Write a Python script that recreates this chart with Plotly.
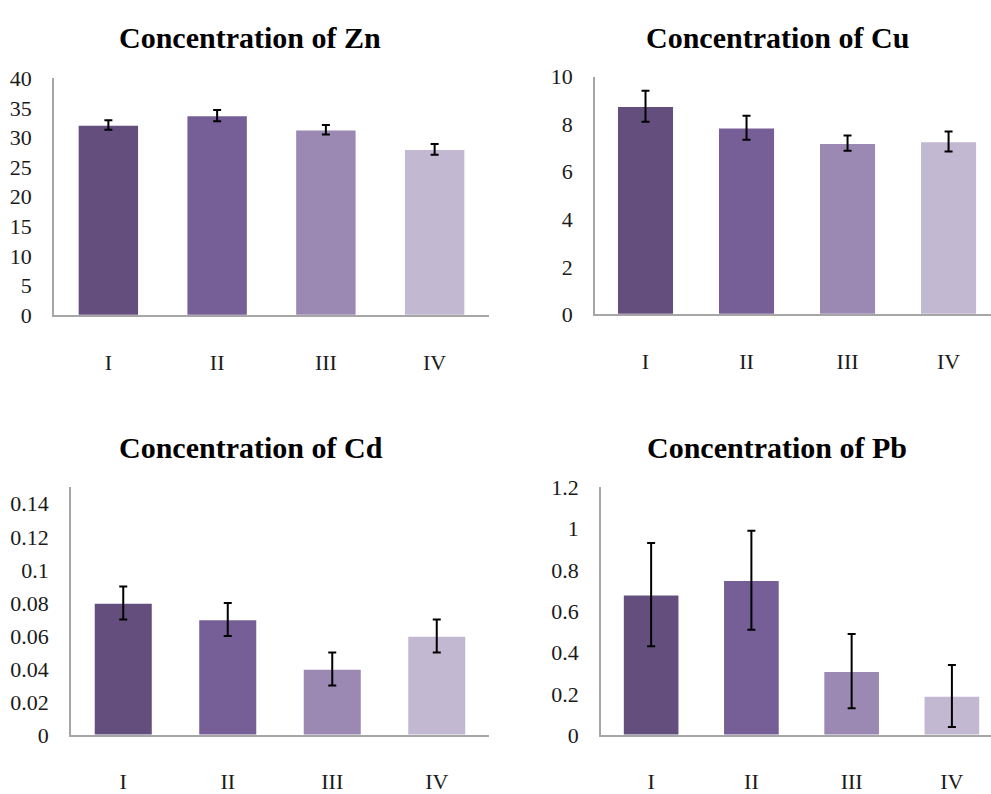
import plotly.graph_objects as go

W, H = 991, 794

categories = ["I", "II", "III", "IV"]
bar_colors = ["#634e7d", "#765e96", "#9b89b3", "#c2b8d1"]

zn_values = [32.1, 33.7, 31.3, 28.0]
zn_errors = [0.8, 0.95, 0.8, 0.9]

cu_values = [8.75, 7.85, 7.2, 7.27]
cu_errors = [0.65, 0.5, 0.32, 0.42]

cd_values = [0.08, 0.07, 0.04, 0.06]
cd_errors = [0.01, 0.01, 0.01, 0.01]

pb_values = [0.68, 0.75, 0.31, 0.19]
pb_errors = [0.25, 0.24, 0.18, 0.15]

titles = ["Concentration of Zn", "Concentration of Cu",
          "Concentration of Cd", "Concentration of Pb"]

panels = [
    dict(vals=zn_values, errs=zn_errors, x0=54, x1=489, yt=68.3, yb=313.3,
         xmax=3.5, yr=[0, 40], tv=[0, 5, 10, 15, 20, 25, 30, 35, 40],
         tt=["0", "5", "10", "15", "20", "25", "30", "35", "40"],
         tx=250, ty=26),
    dict(vals=cu_values, errs=cu_errors, x0=595, x1=991, yt=66.7, yb=312.3,
         xmax=3.42, yr=[0, 10], tv=[0, 2, 4, 6, 8, 10],
         tt=["0", "2", "4", "6", "8", "10"], tx=777, ty=26),
    dict(vals=cd_values, errs=cd_errors, x0=71, x1=489, yt=490.7, yb=746.7,
         xmax=3.5, yr=[0, 0.15], tv=[0, 0.02, 0.04, 0.06, 0.08, 0.1, 0.12, 0.14],
         tt=["0", "0.02", "0.04", "0.06", "0.08", "0.1", "0.12", "0.14"],
         tx=251, ty=450),
    dict(vals=pb_values, errs=pb_errors, x0=601, x1=991, yt=490.7, yb=746.7,
         xmax=3.39, yr=[0, 1.2], tv=[0, 0.2, 0.4, 0.6, 0.8, 1.0, 1.2],
         tt=["0", "0.2", "0.4", "0.6", "0.8", "1", "1.2"], tx=777, ty=450),
]

FONT = "Liberation Serif"

fig = go.Figure()
layout = dict(
    width=W, height=H, autosize=False, margin=dict(l=0, r=0, t=0, b=0, pad=0),
    paper_bgcolor="white", plot_bgcolor="white", showlegend=False,
    font=dict(family=FONT, size=22, color="#1a1a1a"),
    bargap=0.44,
)
annotations = []
for i, p in enumerate(panels):
    n = "" if i == 0 else str(i + 1)
    fig.add_trace(go.Bar(
        x=categories, y=p["vals"],
        marker=dict(color=bar_colors, line=dict(color="white", width=1.5)),
        error_y=dict(type="data", array=p["errs"], visible=True,
                     color="black", thickness=2, width=4),
        xaxis="x" + n, yaxis="y" + n, hoverinfo="skip",
    ))
    layout["xaxis" + n] = dict(
        domain=[p["x0"] / W, p["x1"] / W], anchor="y" + n,
        range=[-0.5, p["xmax"]], showgrid=False, zeroline=False,
        showline=True, linecolor="#a6a6a6", linewidth=1.5, ticks="",
        ticklabelstandoff=26, tickfont=dict(size=22, family=FONT),
        fixedrange=True,
    )
    layout["yaxis" + n] = dict(
        domain=[1 - p["yb"] / H, 1 - p["yt"] / H], anchor="x" + n,
        range=p["yr"], tickvals=p["tv"], ticktext=p["tt"],
        showgrid=False, zeroline=False, showline=True, linecolor="#a6a6a6",
        linewidth=1.5, ticks="", ticklabelstandoff=16,
        tickfont=dict(size=22, family=FONT), fixedrange=True,
    )
    annotations.append(dict(
        text="<b>" + titles[i] + "</b>", x=p["tx"] / W, y=1 - p["ty"] / H,
        xref="paper", yref="paper", xanchor="center", yanchor="middle",
        showarrow=False, font=dict(size=30, family=FONT, color="black"),
    ))
layout["annotations"] = annotations
fig.update_layout(**layout)
fig.write_html(
    "out.html",
    config={"displayModeBar": False, "responsive": False},
    post_script=(
        "var d=document.getElementById('{plot_id}');"
        "d.style.position='fixed';d.style.left='0px';d.style.top='0px';"
        "document.body.style.margin='0';"
        "document.body.style.overflow='hidden';"
        "document.documentElement.style.overflow='hidden';"
    ),
)
